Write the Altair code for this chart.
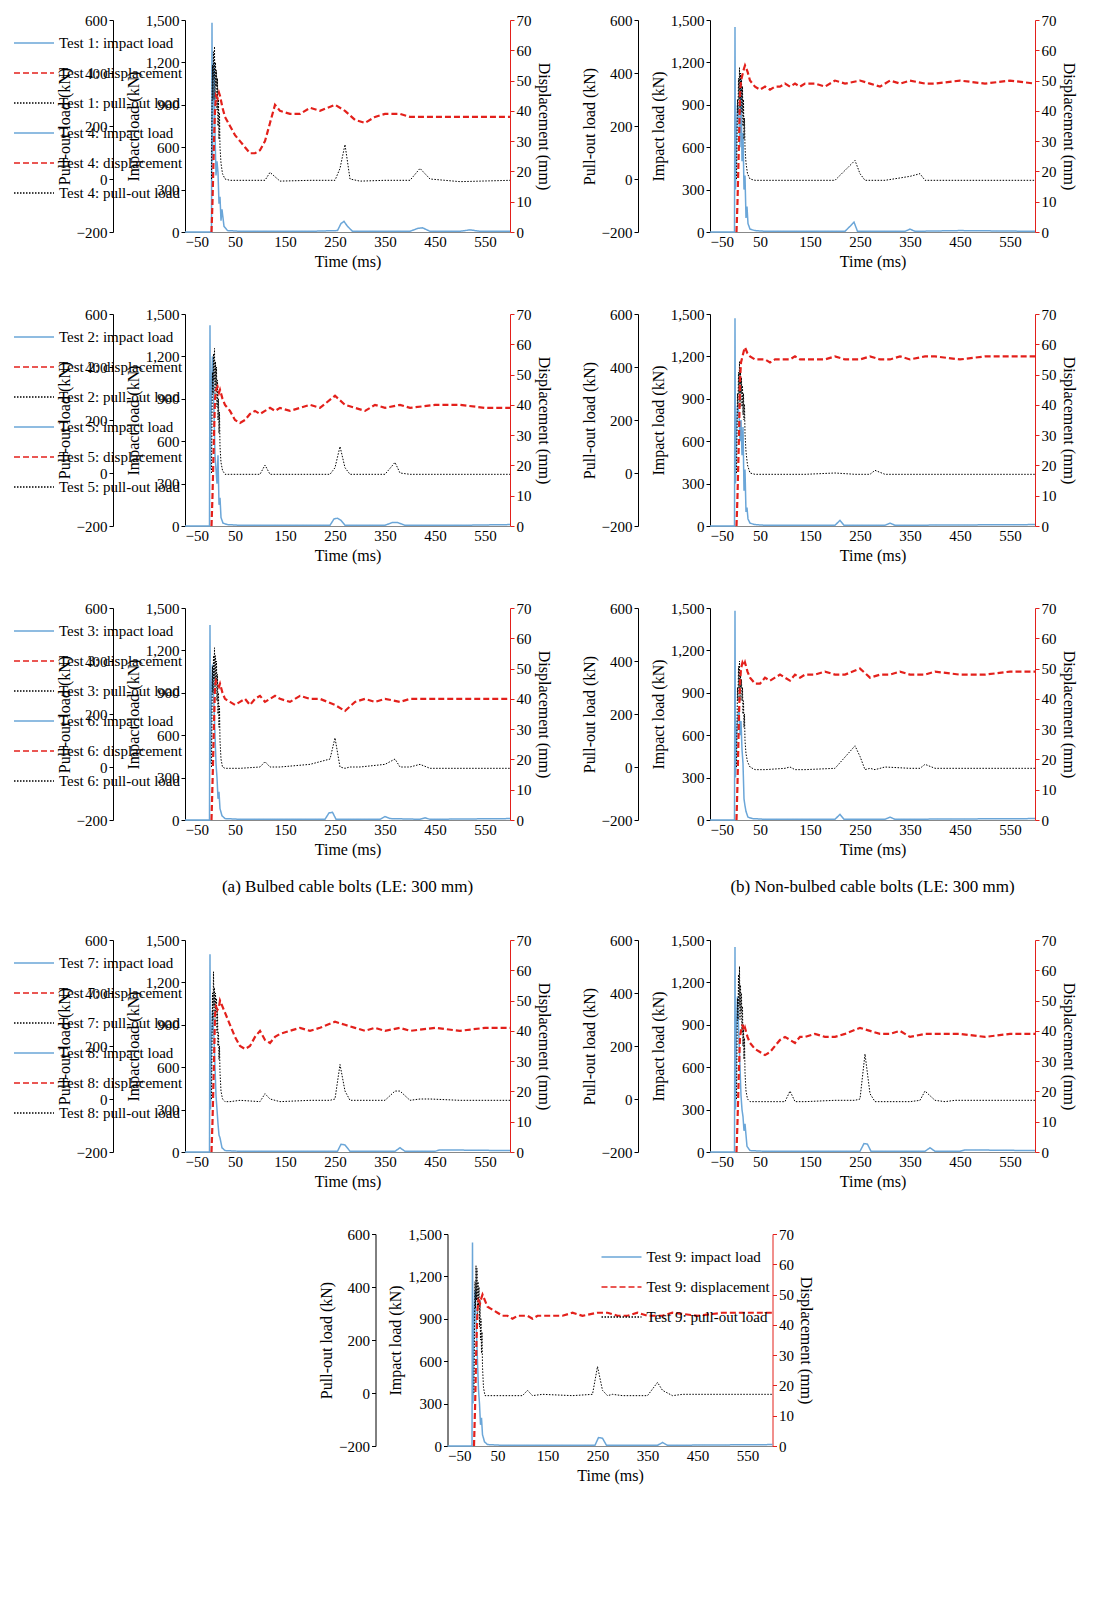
import altair as alt
import pandas as pd

FONT = "Liberation Serif"
X_TICKS = [-50, 50, 150, 250, 350, 450, 550]
IMP_TICKS = [0, 300, 600, 900, 1200, 1500]
PULL_TICKS = [-200, 0, 200, 400, 600]
DISP_TICKS = [0, 10, 20, 30, 40, 50, 60, 70]
COLORS = ["#6BA6D8", "#E3201B", "#000000"]
DASHES = [[1, 0], [6, 3], [1.5, 1.5]]

# ---- Impact load (kN) ----
imp_t1 = [-50, 2, 3, 4, 5, 6, 8, 10, 12, 14, 16, 18, 20, 22, 24, 28, 35, 60, 200, 255, 262, 268, 275, 285, 400, 415, 425, 440, 500, 520, 540, 600]
imp_v1 = [0, 0, 0, 1480, 500, 900, 1200, 700, 400, 500, 420, 200, 250, 80, 160, 40, 10, 5, 5, 10, 60, 75, 40, 5, 5, 25, 30, 5, 5, 15, 5, 5]
imp_t2 = [-50, -2, -1, 0, 1, 3, 5, 8, 10, 12, 14, 16, 18, 20, 22, 26, 35, 60, 240, 248, 255, 262, 270, 350, 365, 375, 390, 500, 600]
imp_v2 = [0, 0, 0, 1420, 400, 1000, 1200, 800, 500, 400, 300, 500, 150, 200, 60, 20, 10, 5, 5, 50, 55, 40, 5, 5, 25, 25, 5, 5, 10]
imp_t3 = [-50, -2, -1, 0, 1, 3, 5, 8, 10, 12, 14, 16, 18, 20, 24, 30, 60, 230, 238, 245, 252, 340, 350, 360, 420, 430, 440, 600]
imp_v3 = [0, 0, 0, 1380, 400, 900, 1100, 800, 600, 400, 300, 150, 200, 80, 30, 10, 5, 5, 50, 55, 5, 5, 25, 10, 5, 15, 5, 10]
imp_t4 = [-50, -2, -1, 0, 1, 3, 5, 8, 10, 12, 14, 16, 18, 20, 22, 24, 26, 30, 40, 60, 220, 230, 238, 245, 340, 350, 360, 450, 600]
imp_v4 = [0, 0, 0, 1450, 300, 700, 900, 800, 600, 1100, 500, 700, 300, 400, 100, 180, 60, 20, 10, 5, 5, 40, 70, 5, 5, 20, 5, 10, 5]
imp_t5 = [-50, -2, -1, 0, 1, 3, 5, 8, 10, 12, 14, 16, 18, 20, 22, 24, 26, 30, 40, 60, 200, 210, 218, 300, 310, 320, 600]
imp_v5 = [0, 0, 0, 1470, 300, 700, 850, 800, 600, 750, 500, 700, 250, 400, 100, 130, 50, 20, 10, 5, 5, 40, 5, 5, 20, 5, 10]
imp_t6 = [-50, -2, -1, 0, 1, 3, 5, 8, 10, 12, 14, 16, 18, 20, 22, 26, 35, 60, 200, 210, 218, 300, 310, 320, 600]
imp_v6 = [0, 0, 0, 1480, 300, 600, 700, 800, 600, 700, 500, 400, 150, 100, 60, 20, 10, 5, 5, 40, 5, 5, 20, 5, 10]
imp_t7 = [-50, -2, -1, 0, 1, 3, 5, 8, 10, 12, 14, 16, 18, 20, 24, 30, 60, 255, 262, 270, 280, 370, 380, 390, 450, 460, 600]
imp_v7 = [0, 0, 0, 1400, 300, 800, 1000, 800, 600, 400, 300, 200, 120, 100, 30, 10, 5, 5, 55, 50, 5, 5, 30, 5, 5, 15, 10]
imp_t8 = [-50, -2, -1, 0, 1, 3, 5, 8, 10, 12, 14, 16, 18, 20, 24, 30, 60, 250, 258, 265, 272, 380, 390, 400, 450, 460, 600]
imp_v8 = [0, 0, 0, 1450, 300, 900, 1100, 800, 600, 400, 300, 250, 150, 200, 40, 10, 5, 5, 60, 55, 5, 5, 30, 5, 5, 15, 10]
imp_t9 = [-50, -2, -1, 0, 1, 3, 5, 8, 10, 12, 14, 16, 18, 20, 24, 30, 60, 245, 252, 260, 268, 370, 380, 390, 600]
imp_v9 = [0, 0, 0, 1440, 300, 900, 1100, 800, 600, 400, 300, 150, 200, 80, 30, 10, 5, 5, 60, 55, 5, 5, 25, 5, 10]

# ---- Displacement (mm) ----
disp_t = [3, 5, 8, 10, 12, 15, 18, 20, 25, 30, 40, 50, 60, 70, 80, 90, 100, 110, 120, 130, 140, 160, 180, 200, 220, 250, 270, 290, 310, 330, 350, 380, 400, 450, 500, 550, 600]
disp_v1 = [0, 10, 30, 40, 45, 44, 46, 45, 41, 38, 35, 32, 30, 28, 26, 26, 27, 30, 36, 42, 40, 39, 39, 41, 40, 42, 40, 37, 36, 38, 39, 39, 38, 38, 38, 38, 38]
disp_v2 = [0, 10, 30, 42, 45, 46, 44, 45, 42, 40, 38, 35, 34, 35, 37, 38, 37, 38, 39, 38, 39, 38, 39, 40, 39, 43, 40, 39, 38, 40, 39, 40, 39, 40, 40, 39, 39]
disp_v3 = [0, 12, 32, 44, 46, 45, 44, 45, 42, 40, 39, 38, 39, 40, 38, 40, 41, 39, 40, 41, 40, 39, 41, 40, 40, 38, 36, 39, 40, 39, 40, 39, 40, 40, 40, 40, 40]
disp_v4 = [0, 10, 30, 45, 50, 52, 54, 55, 53, 50, 48, 47, 48, 47, 48, 48, 49, 48, 49, 48, 49, 49, 48, 50, 49, 50, 49, 48, 50, 49, 50, 49, 49, 50, 49, 50, 49]
disp_v5 = [0, 10, 30, 48, 54, 56, 58, 59, 57, 56, 55, 55, 55, 54, 55, 55, 55, 55, 56, 55, 55, 55, 55, 56, 55, 55, 56, 55, 55, 56, 55, 56, 56, 55, 56, 56, 56]
disp_v6 = [0, 12, 35, 45, 50, 52, 51, 52, 49, 47, 45, 45, 47, 46, 47, 48, 47, 46, 48, 47, 48, 48, 49, 48, 48, 50, 47, 48, 48, 49, 48, 48, 49, 48, 48, 49, 49]
disp_v7 = [0, 10, 30, 45, 48, 47, 48, 50, 48, 46, 42, 38, 35, 34, 35, 38, 40, 37, 36, 38, 39, 40, 41, 40, 41, 43, 42, 41, 40, 41, 40, 41, 40, 41, 40, 41, 41]
disp_v8 = [0, 10, 28, 38, 40, 42, 40, 41, 38, 36, 34, 33, 32, 33, 35, 37, 38, 37, 36, 38, 38, 39, 38, 38, 39, 41, 40, 39, 39, 40, 38, 39, 39, 39, 38, 39, 39]
disp_v9 = [0, 12, 35, 45, 48, 47, 49, 50, 48, 46, 45, 44, 43, 43, 42, 43, 43, 43, 42, 43, 43, 43, 43, 44, 43, 44, 44, 43, 43, 44, 43, 43, 44, 43, 44, 44, 44]

# ---- Pull-out load (kN) ----
pull_t = [3, 4, 5, 6, 7, 8, 9, 10, 11, 12, 13, 14, 15, 16, 17, 18, 19, 20, 22, 25, 30, 40, 60, 100, 110, 120, 140, 200, 240, 250, 260, 270, 280, 300, 350, 370, 380, 400, 420, 440, 500, 600]
pull_v1 = [0, 250, 430, 300, 480, 380, 500, 300, 440, 350, 410, 260, 380, 200, 300, 150, 250, 120, 60, 20, 0, -5, -5, -5, -5, 25, -8, -5, -5, -5, 40, 130, 0, -8, -5, -5, -5, -5, 40, 0, -10, -5]
pull_v2 = [0, 200, 380, 300, 450, 350, 470, 300, 420, 330, 400, 250, 350, 200, 280, 150, 230, 100, 40, 10, -5, -5, -5, -5, 30, -5, -5, -5, -5, 20, 100, 20, -5, -5, -5, 40, 0, -5, -5, -5, -5, -5]
pull_v3 = [0, 200, 380, 280, 420, 330, 450, 300, 420, 330, 400, 250, 350, 200, 280, 150, 230, 100, 30, 0, -5, -5, -5, 0, 20, 0, 0, 10, 30, 110, 0, -5, 0, 0, 10, 30, 0, 0, 10, -5, -5, -5]
pull_v4 = [0, 150, 300, 250, 380, 300, 420, 250, 400, 300, 380, 250, 350, 200, 300, 150, 230, 120, 60, 20, 0, -5, -5, -5, -5, -5, -5, -5, 70, 20, -5, -5, -5, -5, 10, 20, -5, -5, -5, -5, -5, -5]
pull_v5 = [0, 150, 300, 250, 380, 300, 420, 250, 380, 300, 360, 250, 330, 220, 300, 200, 260, 150, 80, 30, 0, -5, -5, -5, -5, -5, -5, 0, -5, -5, -5, -5, 10, -5, -5, -5, -5, -5, -5, -5, -5, -5]
pull_v6 = [0, 150, 300, 250, 380, 300, 400, 250, 350, 300, 330, 250, 300, 200, 250, 150, 200, 100, 50, 20, 0, -10, -10, -5, 0, -10, -10, -5, 80, 40, -10, -5, -10, 0, -5, -5, 10, -5, -5, -5, -5, -5]
pull_v7 = [0, 200, 400, 300, 480, 350, 420, 300, 400, 330, 380, 250, 330, 200, 250, 150, 200, 100, 30, 0, -10, -10, -5, -10, 20, 0, -10, -5, -5, 0, 130, 30, -5, -5, -5, 30, 30, -5, 0, 0, -5, -5]
pull_v8 = [0, 200, 380, 300, 470, 350, 500, 300, 430, 330, 400, 250, 350, 200, 280, 150, 230, 100, 30, 0, -10, -10, -10, -10, 30, -10, -10, -5, -5, 0, 170, 20, -10, -10, -10, -5, 30, -5, -10, -5, -5, -5]
pull_v9 = [0, 250, 420, 320, 480, 350, 470, 300, 420, 330, 400, 250, 350, 200, 280, 150, 230, 100, 20, -10, -10, -10, -10, -10, 10, -10, -5, -10, -5, 100, 10, -10, -5, -10, -10, 40, 10, -10, -5, -5, -5, -5]

TESTS = [
    (1, imp_t1, imp_v1, disp_v1, pull_v1), (2, imp_t2, imp_v2, disp_v2, pull_v2),
    (3, imp_t3, imp_v3, disp_v3, pull_v3), (4, imp_t4, imp_v4, disp_v4, pull_v4),
    (5, imp_t5, imp_v5, disp_v5, pull_v5), (6, imp_t6, imp_v6, disp_v6, pull_v6),
    (7, imp_t7, imp_v7, disp_v7, pull_v7), (8, imp_t8, imp_v8, disp_v8, pull_v8),
    (9, imp_t9, imp_v9, disp_v9, pull_v9),
]

MINUS = "replace(datum.label, '-', '\u2212')"


def panel(i, it, iv, dv, pv, caption=None):
    labels = [f"Test {i}: impact load", f"Test {i}: displacement", f"Test {i}: pull-out load"]
    cs = alt.Scale(domain=labels, range=COLORS)
    ds = alt.Scale(domain=labels, range=DASHES)
    leg = alt.Legend(title=None, orient="top-right", symbolType="stroke", symbolSize=1600,
                     labelFont=FONT, labelFontSize=15, symbolStrokeWidth=1.5,
                     rowPadding=1, padding=0, offset=2, labelLimit=300)
    x = alt.X("t:Q", scale=alt.Scale(domain=[-50, 600], nice=False),
              axis=alt.Axis(values=X_TICKS, title="Time (ms)", grid=False, labelExpr=MINUS,
                            tickSize=0))

    def enc(field_title, dom, ticks, orient, offset, color="black", lexpr=None):
        ax = dict(values=ticks, title=field_title, orient=orient, offset=offset, grid=False,
                  domainColor=color, tickColor=color, tickSize=4)
        if lexpr:
            ax["labelExpr"] = lexpr
        return alt.Y("v:Q", scale=alt.Scale(domain=dom, nice=False), axis=alt.Axis(**ax))

    common = dict(color=alt.Color("s:N", scale=cs, legend=leg),
                  strokeDash=alt.StrokeDash("s:N", scale=ds, legend=leg))
    d_imp = pd.DataFrame({"t": it, "v": iv, "s": labels[0]})
    d_disp = pd.DataFrame({"t": disp_t, "v": dv, "s": labels[1]})
    d_pull = pd.DataFrame({"t": pull_t, "v": pv, "s": labels[2]})
    l1 = alt.Chart(d_imp).mark_line(strokeWidth=1.5).encode(
        x=x, y=enc("Impact load (kN)", [0, 1500], IMP_TICKS, "left", 0), **common)
    l3 = alt.Chart(d_pull).mark_line(strokeWidth=1).encode(
        x=x, y=enc("Pull-out load (kN)", [-200, 600], PULL_TICKS, "left", 72, lexpr=MINUS), **common)
    l2 = alt.Chart(d_disp).mark_line(strokeWidth=2.2).encode(
        x=x, y=enc("Displacement (mm)", [0, 70], DISP_TICKS, "right", 0, color="#E3201B"), **common)
    ch = alt.layer(l1, l3, l2).resolve_scale(y="independent").properties(width=325, height=212)
    if caption:
        ch = ch.properties(title=alt.TitleParams(caption, orient="bottom", fontSize=17, font=FONT,
                                                 fontWeight="normal", offset=22, anchor="middle"))
    return ch


P = {t[0]: t for t in TESTS}
cap = {3: "(a) Bulbed cable bolts (LE: 300 mm)", 6: "(b) Non-bulbed cable bolts (LE: 300 mm)"}
mk = lambda n: panel(*P[n], caption=cap.get(n))

rows = [alt.hconcat(mk(a), mk(b), spacing=30) for a, b in [(1, 4), (2, 5), (3, 6), (7, 8)]]
rows.append(mk(9))
chart = alt.vconcat(*rows, spacing=38, center=True).resolve_scale(
    color="independent", strokeDash="independent").resolve_legend(
    color="independent", strokeDash="independent").configure_axis(
    labelFont=FONT, titleFont=FONT, labelFontSize=15, titleFontSize=16,
    titleFontWeight="normal", labelColor="black", titleColor="black").configure_view(stroke=None)

chart.save("out.html", embed_options={"renderer": "svg", "actions": False})
